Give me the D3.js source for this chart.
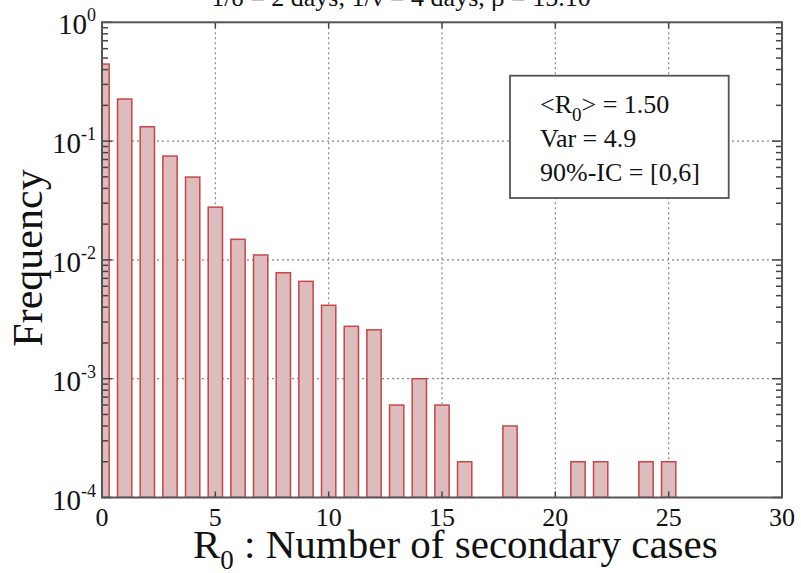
<!DOCTYPE html>
<html><head><meta charset="utf-8">
<script src="https://cdn.jsdelivr.net/npm/d3@7"></script>
<style>body{margin:0;background:#fff}svg{display:block}text{font-family:"Liberation Serif","DejaVu Serif",serif;fill:#111}</style>
</head><body><svg id="c" width="801" height="573"></svg>
<script>
const categories = [0,1,2,3,4,5,6,7,8,9,10,11,12,13,14,15,16,17,18,19,20,21,22,23,24,25];
const frequencies = [0.445,0.226,0.132,0.0748,0.0498,0.0278,0.0149,0.0110,0.0078,0.0066,0.00415,0.00276,0.00258,0.0006,0.001,0.0006,0.0002,0,0.0004,0,0,0.0002,0.0002,0,0.0002,0.0002];
const xTicks = [0,5,10,15,20,25,30];
const yTicks = [0,-1,-2,-3,-4];
const legendLines = ["<R0> = 1.50","Var = 4.9","90%-IC = [0,6]"];
const titleText = "1/δ = 2 days, 1/ν = 4 days, β = 15.10";

const svg = d3.select("#c");
const L=102, R=782, T=22.3, B=497.5;
const x = d3.scaleLinear().domain([0,30]).range([L,R]);
const y = d3.scaleLog().domain([1e-4,1]).range([B,T]);

svg.append("clipPath").attr("id","pc").append("rect").attr("x",L).attr("y",T).attr("width",R-L).attr("height",B-T);

// grid
const g = svg.append("g");
g.selectAll(".gx").data([5,10,15,20,25]).join("line")
  .attr("x1",d=>x(d)).attr("x2",d=>x(d)).attr("y1",T).attr("y2",B)
  .attr("stroke","#888").attr("stroke-width",1.2).attr("stroke-dasharray","2,3");
g.selectAll(".gy").data([1e-1,1e-2,1e-3]).join("line")
  .attr("x1",L).attr("x2",R).attr("y1",d=>y(d)).attr("y2",d=>y(d))
  .attr("stroke","#888").attr("stroke-width",1.2).attr("stroke-dasharray","2,3");

// bars
const bw = 0.63;
svg.append("g").attr("clip-path","url(#pc)").selectAll("rect")
  .data(categories.map((c,i)=>({c,v:frequencies[i]})).filter(d=>d.v>0)).join("rect")
  .attr("x",d=>x(d.c-bw/2)).attr("width",x(bw)-x(0))
  .attr("y",d=>y(d.v)).attr("height",d=>B-y(d.v))
  .attr("fill","#dcbcbc").attr("stroke","#c9454a").attr("stroke-width",1.5);

// ticks
const tk = svg.append("g").attr("stroke","#444").attr("stroke-width",1.5);
const minor=[];
for(let e=-4;e<0;e++) for(let m=2;m<=9;m++) minor.push(m*Math.pow(10,e));
yTicks.forEach(e=>{const v=Math.pow(10,e);
  tk.append("line").attr("x1",L).attr("x2",L+10).attr("y1",y(v)).attr("y2",y(v));
  tk.append("line").attr("x1",R).attr("x2",R-10).attr("y1",y(v)).attr("y2",y(v));});
minor.forEach(v=>{
  tk.append("line").attr("x1",L).attr("x2",L+6).attr("y1",y(v)).attr("y2",y(v));
  tk.append("line").attr("x1",R).attr("x2",R-6).attr("y1",y(v)).attr("y2",y(v));});
xTicks.forEach(v=>{
  tk.append("line").attr("x1",x(v)).attr("x2",x(v)).attr("y1",B).attr("y2",B-6);
  tk.append("line").attr("x1",x(v)).attr("x2",x(v)).attr("y1",T).attr("y2",T+6);});

// frame
svg.append("rect").attr("x",L).attr("y",T).attr("width",R-L).attr("height",B-T)
  .attr("fill","none").attr("stroke","#555").attr("stroke-width",2);

// x tick labels
svg.selectAll(".xl").data(xTicks).join("text").attr("x",d=>x(d)).attr("y",B+28)
  .attr("text-anchor","middle").attr("font-size",26).text(d=>d);

// y tick labels
yTicks.forEach(e=>{
  const t=svg.append("text").attr("x",L-6).attr("y",y(Math.pow(10,e))+12).attr("text-anchor","end").attr("font-size",29);
  t.append("tspan").text("10");
  t.append("tspan").attr("dy",-13).attr("font-size",18).text(e===0?"0":"-"+(-e));
});

// axis titles
const xt = svg.append("text").attr("x",193).attr("y",558).attr("font-size",41);
xt.append("tspan").text("R");
xt.append("tspan").attr("dy",11).attr("font-size",27).text("0");
xt.append("tspan").attr("dy",-11).text(" : Number of secondary cases");

svg.append("text").attr("transform","translate(42,258) rotate(-90)").attr("text-anchor","middle")
  .attr("font-size",42).text("Frequency");

// title (mostly cut off)
const tt = svg.append("text").attr("x",408).attr("y",6).attr("text-anchor","middle").attr("font-size",26);
tt.append("tspan").text(titleText);
tt.append("tspan").attr("dy",-10).attr("font-size",17).text("-5");

// legend
svg.append("rect").attr("x",510).attr("y",75.7).attr("width",218.7).attr("height",122.3)
  .attr("fill","#fff").attr("stroke","#555").attr("stroke-width",1.8);
const lg = svg.append("g").attr("font-size",26);
const l0 = lg.append("text").attr("x",540).attr("y",113);
l0.append("tspan").text("<R");
l0.append("tspan").attr("dy",8).attr("font-size",19).text("0");
l0.append("tspan").attr("dy",-8).text("> = 1.50");
lg.append("text").attr("x",540).attr("y",147).text(legendLines[1]);
lg.append("text").attr("x",540).attr("y",180.5).text(legendLines[2]);
</script></body></html>
